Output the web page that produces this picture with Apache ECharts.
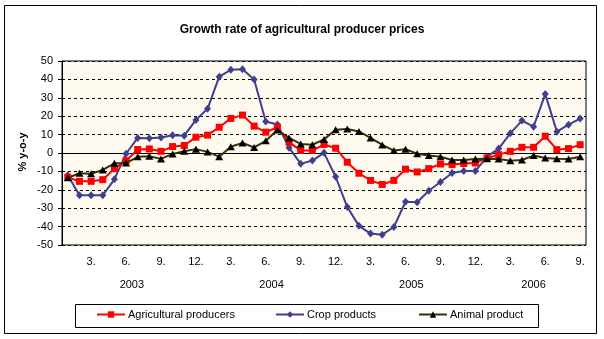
<!DOCTYPE html>
<html>
<head>
<meta charset="utf-8">
<script src="https://cdn.jsdelivr.net/npm/echarts@6/dist/echarts.min.js"></script>
<style>
  html, body { margin: 0; padding: 0; background: #ffffff; }
  #chart { width: 604px; height: 339px; }
</style>
</head>
<body>
<div id="chart"></div>
<script>
// Months Jan 2003 .. Sep 2006 (month number of each point)
const months = [
  1,2,3,4,5,6,7,8,9,10,11,12,
  1,2,3,4,5,6,7,8,9,10,11,12,
  1,2,3,4,5,6,7,8,9,10,11,12,
  1,2,3,4,5,6,7,8,9
];
const years = ['2003', '2004', '2005', '2006'];
// Year label positions along the month scale (middle of each year's span)
const yearCenters = [6, 18, 30, 40.5];

// Year-on-year change, %
const agriculturalProducers = [
  -13.2, -15.4, -15.4, -14.5, -8.5, -4.2, 1.9, 2.2, 0.9, 3.5, 4.1, 8.6,
  9.7, 14.0, 18.8, 20.6, 14.6, 11.3, 14.0, 5.8, 1.4, 1.4, 4.6, 2.6,
  -5.0, -11.0, -14.9, -17.1, -14.9, -8.8, -10.3, -8.5, -6.0, -6.3, -5.7, -5.4,
  -2.7, -0.9, 0.9, 3.1, 3.1, 9.1, 1.8, 2.4, 4.5
];
const cropProducts = [
  -12.1, -23.0, -23.0, -23.0, -14.3, -0.4, 8.2, 8.0, 8.4, 9.6, 9.4, 18.0,
  24.0, 41.5, 45.2, 45.5, 40.0, 17.1, 15.5, 2.9, -5.9, -4.1, 0.1, -12.9,
  -29.4, -39.6, -43.8, -44.4, -40.2, -26.5, -26.8, -20.5, -15.8, -10.9, -9.8, -9.8,
  -2.0, 2.4, 10.7, 17.6, 14.3, 32.0, 11.6, 15.4, 18.7
];
const animalProduct = [
  -13.5, -11.0, -11.3, -9.2, -5.6, -5.5, -2.1, -1.8, -3.2, -0.5, 1.0, 2.1,
  0.6, -2.0, 3.4, 5.5, 3.0, 6.6, 12.5, 8.2, 4.9, 4.5, 7.4, 12.6,
  13.0, 11.7, 8.2, 4.4, 1.3, 2.1, -0.4, -1.4, -2.0, -3.8, -3.8, -3.3,
  -3.1, -3.3, -4.2, -3.8, -1.4, -2.7, -3.1, -3.3, -2.0
];

const yTicks = { min: -50, max: 50, step: 10 };

const FONT = 'Liberation Sans, Arial, sans-serif';
const chart = echarts.init(document.getElementById('chart'), null, { renderer: 'canvas' });

function legendEntry(name, left) {
  return {
    data: [name],
    left: left,
    top: 309,
    padding: 0,
    itemWidth: 28,
    itemHeight: 8,
    itemGap: 0,
    selectedMode: false,
    textStyle: { fontFamily: FONT, fontSize: 11, color: '#000', padding: [0, 0, 0, -2] }
  };
}

chart.setOption({
  animation: false,
  backgroundColor: '#ffffff',
  title: {
    text: 'Growth rate of agricultural producer prices',
    left: 'center',
    top: 19,
    textStyle: { fontFamily: FONT, fontSize: 12, fontWeight: 'bold', color: '#000' }
  },
  graphic: [
    {
      type: 'rect', z: -10, silent: true,
      shape: { x: 4.5, y: 5.5, width: 592, height: 328 },
      style: { fill: 'none', stroke: '#000', lineWidth: 1 }
    },
    {
      type: 'rect', z: -10, silent: true,
      shape: { x: 75.5, y: 304.5, width: 463, height: 23 },
      style: { fill: '#fff', stroke: '#000', lineWidth: 1 }
    },
    {
      type: 'text', silent: true,
      x: 23, y: 152, rotation: Math.PI / 2,
      style: {
        text: '% y-o-y', fontFamily: FONT, fontSize: 11, fontWeight: 'bold',
        fill: '#000', align: 'center', verticalAlign: 'middle'
      }
    }
  ],
  legend: [
    legendEntry('Agricultural producers', 96),
    legendEntry('Crop products', 275),
    legendEntry('Animal product', 418)
  ],
  grid: {
    left: 62, right: 18, top: 61, bottom: 94,
    show: true, backgroundColor: '#FFFAF0', borderColor: '#000', borderWidth: 1
  },
  xAxis: [
    {
      type: 'category',
      data: months,
      boundaryGap: true,
      axisLine: { show: true, lineStyle: { color: '#000', width: 1 } },
      axisTick: { show: false },
      axisLabel: {
        interval: (i) => (i + 1) % 3 === 0,
        formatter: (v) => v + '.',
        fontFamily: FONT, fontSize: 11, color: '#000', margin: 11
      },
      splitLine: { show: false }
    },
    {
      type: 'value',
      position: 'bottom',
      min: 0, max: months.length,
      axisLine: { show: false },
      axisTick: { show: false },
      splitLine: { show: false },
      axisLabel: {
        customValues: yearCenters,
        formatter: (v) => years[yearCenters.indexOf(v)] || '',
        fontFamily: FONT, fontSize: 11, color: '#000', margin: 34
      }
    }
  ],
  yAxis: {
    type: 'value',
    min: yTicks.min, max: yTicks.max, interval: yTicks.step,
    axisLine: { show: true, lineStyle: { color: '#000', width: 1 } },
    axisTick: { show: true, inside: false, length: 4, lineStyle: { color: '#000' } },
    axisLabel: { fontFamily: FONT, fontSize: 11, color: '#000', margin: 9 },
    splitLine: { show: true, lineStyle: { color: '#000', type: [3, 3], width: 1 } }
  },
  series: [
    {
      name: 'Agricultural producers',
      type: 'line',
      data: agriculturalProducers,
      showAllSymbol: true,
      symbol: 'rect', symbolSize: 7,
      lineStyle: { color: '#FF0000', width: 2 },
      itemStyle: { color: '#FF0000' },
      z: 3
    },
    {
      name: 'Crop products',
      type: 'line',
      data: cropProducts,
      showAllSymbol: true,
      symbol: 'diamond', symbolSize: [7, 8],
      lineStyle: { color: '#3F3F8F', width: 2 },
      itemStyle: { color: '#3F3F8F' },
      z: 2
    },
    {
      name: 'Animal product',
      type: 'line',
      data: animalProduct,
      showAllSymbol: true,
      symbol: 'triangle', symbolSize: [8, 7],
      lineStyle: { color: '#333300', width: 2 },
      itemStyle: { color: '#000000' },
      z: 4
    }
  ]
});
</script>
</body>
</html>
